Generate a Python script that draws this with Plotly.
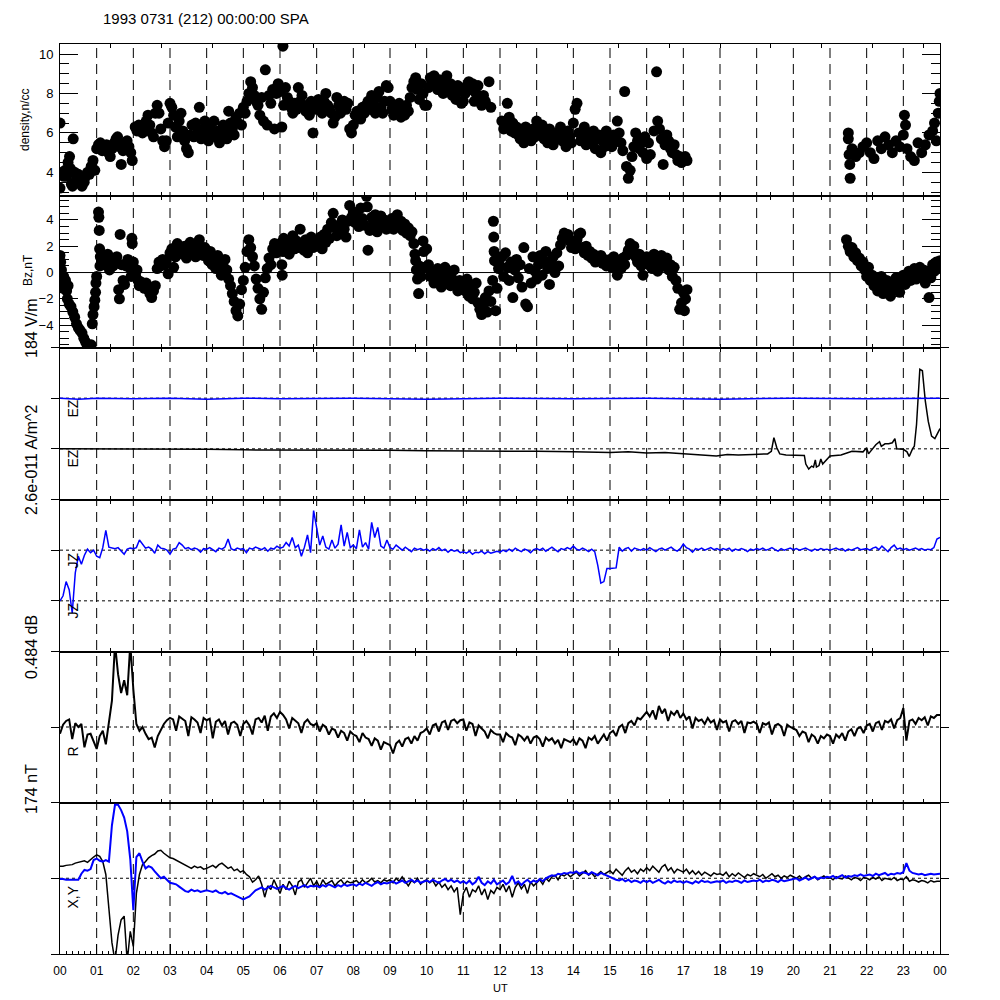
import plotly.graph_objects as go

# ---------------- data ----------------
title_text = "1993 0731 (212) 00:00:00 SPA"
hour_labels = ["00", "01", "02", "03", "04", "05", "06", "07", "08", "09", "10", "11", "12",
               "13", "14", "15", "16", "17", "18", "19", "20", "21", "22", "23", "00"]

density_pts = [
    (0.00, 6.5), (0.00, 3.2), (0.03, 3.9), (0.06, 4.0), (0.10, 3.8), (0.14, 4.1), (0.18, 3.8), (0.22, 4.5), (0.26, 4.8), (0.28, 4.2), (0.31, 3.4), (0.34, 3.3), (0.36, 5.7), (0.40, 4.0), (0.45, 3.7), (0.50, 3.9), (0.55, 3.5), (0.60, 3.3), (0.66, 3.5), (0.70, 3.8), (0.75, 4.0), (0.80, 3.9), (0.85, 4.3), (0.90, 4.6), (0.95, 4.1),
    (1.00, 5.2), (1.05, 5.4), (1.10, 5.5), (1.15, 5.1), (1.20, 5.3), (1.27, 5.4), (1.32, 5.0), (1.37, 4.8), (1.42, 5.2), (1.48, 5.5), (1.53, 5.7), (1.57, 5.8), (1.62, 5.3), (1.67, 4.4), (1.72, 5.1), (1.78, 5.5), (1.83, 5.6), (1.88, 5.3), (1.93, 5.0), (1.97, 4.6),
    (2.05, 6.3), (2.10, 6.1), (2.15, 6.4), (2.20, 6.2), (2.25, 6.0), (2.30, 6.3), (2.35, 6.6), (2.40, 6.9), (2.45, 6.4), (2.50, 6.0), (2.55, 5.8), (2.60, 7.0), (2.65, 7.4), (2.70, 7.0), (2.75, 6.2), (2.80, 5.6), (2.85, 5.3), (2.90, 5.6), (2.95, 6.5),
    (3.00, 7.5), (3.05, 7.3), (3.10, 6.9), (3.15, 6.3), (3.20, 5.8), (3.25, 6.6), (3.30, 7.0), (3.35, 6.1), (3.40, 5.6), (3.45, 5.2), (3.50, 5.0), (3.55, 5.9), (3.60, 6.4), (3.65, 5.8), (3.70, 6.5), (3.75, 6.0), (3.80, 7.3), (3.85, 5.7), (3.90, 6.2), (3.95, 6.6),
    (4.00, 6.0), (4.05, 5.6), (4.10, 6.3), (4.15, 5.9), (4.20, 6.6), (4.25, 5.8), (4.30, 6.1), (4.35, 5.5), (4.40, 5.9), (4.45, 6.4), (4.50, 6.0), (4.55, 5.7), (4.60, 7.1), (4.65, 6.5), (4.70, 6.2), (4.75, 5.9), (4.80, 6.8), (4.85, 6.5), (4.90, 7.0), (4.95, 6.4),
    (5.00, 7.3), (5.05, 7.0), (5.10, 7.6), (5.15, 8.0), (5.20, 8.6), (5.25, 8.3), (5.30, 7.9), (5.35, 7.6), (5.40, 7.4), (5.45, 6.9), (5.50, 7.8), (5.55, 6.6), (5.60, 9.2), (5.65, 6.4), (5.70, 7.9), (5.75, 7.5), (5.80, 8.2), (5.85, 6.2), (5.90, 8.0), (5.95, 8.5),
    (6.00, 8.1), (6.05, 6.3), (6.08, 10.4), (6.10, 7.4), (6.15, 8.3), (6.20, 7.8), (6.25, 7.6), (6.30, 7.3), (6.35, 7.0), (6.40, 7.5), (6.45, 7.2), (6.50, 8.3), (6.55, 7.6), (6.60, 7.9), (6.65, 7.4), (6.70, 7.1), (6.75, 7.3), (6.80, 6.9), (6.85, 7.6), (6.90, 6.0), (6.95, 7.2),
    (7.00, 7.5), (7.05, 7.7), (7.10, 7.3), (7.15, 7.0), (7.20, 7.6), (7.25, 8.0), (7.30, 7.4), (7.35, 7.2), (7.40, 7.0), (7.45, 6.5), (7.50, 6.8), (7.55, 7.8), (7.60, 7.4), (7.65, 7.0), (7.70, 7.3), (7.75, 7.6), (7.80, 7.2), (7.85, 7.5), (7.90, 6.2), (7.95, 6.0),
    (8.00, 6.4), (8.05, 6.9), (8.10, 7.1), (8.15, 6.9), (8.20, 6.7), (8.25, 7.3), (8.30, 7.0), (8.35, 7.4), (8.40, 7.6), (8.45, 7.2), (8.50, 7.9), (8.55, 7.5), (8.60, 7.0), (8.65, 7.8), (8.70, 8.1), (8.75, 7.3), (8.80, 7.0), (8.85, 7.6), (8.90, 8.4), (8.95, 8.3),
    (9.00, 7.6), (9.05, 7.2), (9.10, 6.9), (9.15, 7.3), (9.20, 7.0), (9.25, 7.5), (9.30, 6.8), (9.35, 7.2), (9.40, 6.9), (9.45, 7.4), (9.50, 7.1), (9.55, 7.8), (9.60, 8.3), (9.65, 8.6), (9.70, 8.8), (9.75, 8.2), (9.80, 7.7), (9.85, 8.5), (9.90, 8.0), (9.95, 7.4),
    (10.00, 7.4), (10.05, 8.3), (10.10, 8.8), (10.15, 8.5), (10.20, 8.9), (10.25, 8.6), (10.30, 8.2), (10.35, 8.7), (10.40, 8.4), (10.45, 8.0), (10.50, 8.6), (10.55, 8.9), (10.60, 8.3), (10.65, 8.5), (10.70, 7.9), (10.75, 8.2), (10.80, 7.7), (10.85, 8.4), (10.90, 8.1), (10.95, 7.5),
    (11.00, 7.6), (11.05, 8.0), (11.10, 8.4), (11.15, 8.6), (11.20, 8.2), (11.25, 8.5), (11.30, 7.6), (11.35, 8.0), (11.40, 8.4), (11.45, 7.8), (11.50, 7.4), (11.55, 7.9), (11.60, 7.6), (11.70, 8.6), (11.75, 7.3),
    (12.05, 6.6), (12.10, 6.2), (12.15, 6.4), (12.20, 7.5), (12.25, 6.8), (12.30, 6.1), (12.35, 6.5), (12.40, 6.0), (12.45, 6.3), (12.50, 5.9), (12.55, 5.7), (12.60, 6.1), (12.65, 5.5), (12.70, 6.3), (12.75, 5.8), (12.80, 6.0), (12.85, 5.6), (12.90, 6.2), (12.95, 5.8),
    (13.00, 6.6), (13.05, 6.2), (13.10, 5.9), (13.15, 6.4), (13.20, 5.7), (13.25, 6.0), (13.30, 5.5), (13.35, 6.2), (13.40, 5.8), (13.45, 5.4), (13.50, 6.0), (13.55, 5.7), (13.60, 5.9), (13.65, 6.3), (13.70, 5.6), (13.75, 5.9), (13.80, 5.3), (13.85, 6.1), (13.90, 5.8), (13.95, 5.5),
    (14.00, 6.5), (14.05, 7.2), (14.10, 7.5), (14.15, 6.0), (14.20, 5.6), (14.25, 5.9), (14.30, 6.3), (14.35, 5.4), (14.40, 5.8), (14.45, 6.0), (14.50, 5.5), (14.55, 6.1), (14.60, 5.2), (14.65, 5.7), (14.70, 5.9), (14.75, 5.0), (14.80, 5.6), (14.85, 5.3), (14.90, 6.1), (14.95, 5.4),
    (15.00, 5.8), (15.05, 5.3), (15.10, 5.9), (15.15, 5.6), (15.20, 6.6), (15.25, 6.0), (15.30, 5.5), (15.35, 5.1), (15.40, 8.1), (15.45, 4.3), (15.50, 3.7), (15.55, 4.1), (15.60, 4.8), (15.65, 5.3), (15.70, 6.0), (15.75, 5.6), (15.80, 5.2), (15.85, 5.5), (15.90, 5.0), (15.95, 5.8),
    (16.00, 4.7), (16.05, 5.5), (16.10, 4.9), (16.20, 6.1), (16.27, 9.1), (16.30, 6.6), (16.35, 6.2), (16.40, 5.7), (16.45, 4.4), (16.50, 5.4), (16.55, 5.9), (16.60, 5.6), (16.65, 5.2), (16.70, 5.0), (16.75, 5.4), (16.80, 4.9), (16.85, 4.6), (16.90, 4.8), (16.95, 4.5), (17.00, 4.7), (17.05, 4.8), (17.10, 4.6),
    (21.50, 6.0), (21.50, 5.7), (21.52, 4.9), (21.54, 4.4), (21.55, 3.7), (21.60, 5.2), (21.70, 4.8), (21.80, 5.0), (21.90, 5.3), (22.00, 5.5), (22.10, 5.0), (22.20, 4.7), (22.30, 5.6), (22.40, 5.2), (22.50, 5.8), (22.60, 5.4), (22.70, 5.0), (22.80, 5.6), (22.90, 5.3), (23.00, 5.9), (23.03, 6.9), (23.06, 6.4), (23.10, 5.2), (23.20, 4.8), (23.30, 4.6), (23.40, 5.5), (23.50, 5.0), (23.60, 5.4), (23.70, 5.9), (23.80, 6.1), (23.85, 6.5), (23.90, 5.6), (23.95, 7.0), (23.98, 7.6), (24.00, 8.0),
]

bz_pts = [
    (0.00, 1.3), (0.02, 0.8), (0.04, 0.2), (0.06, -0.5), (0.08, -1.2), (0.10, -0.3), (0.12, -1.0), (0.15, -0.6), (0.18, -1.4), (0.20, -2.0), (0.22, -1.0), (0.25, -2.4), (0.30, -2.6), (0.35, -3.0), (0.40, -3.4), (0.45, -3.9), (0.50, -4.2), (0.55, -4.4), (0.60, -4.6), (0.65, -5.0), (0.70, -5.3), (0.75, -5.6), (0.80, -5.7), (0.85, -5.5), (0.88, -3.9), (0.90, -3.2), (0.93, -2.6), (0.95, -2.1), (0.97, -1.5), (0.98, -0.8), (1.00, -0.3),
    (1.05, 4.6), (1.06, 4.2), (1.07, 3.2), (1.08, 1.8), (1.09, 0.5), (1.10, 1.2), (1.13, 0.8), (1.16, 1.0), (1.20, 0.6), (1.25, 0.9), (1.30, 1.4), (1.35, 0.2), (1.40, 1.1), (1.45, 0.5), (1.50, 0.8), (1.55, 1.2), (1.60, -1.3), (1.62, -2.0), (1.64, 2.9), (1.68, 0.6), (1.72, -0.6), (1.76, -0.9), (1.80, 0.5), (1.85, 1.0), (1.90, 0.4), (1.94, -0.3), (1.96, 2.6), (1.97, 2.2),
    (2.00, 0.8), (2.03, 0.3), (2.06, -0.2), (2.10, 0.2), (2.13, -0.6), (2.16, -1.0), (2.20, -0.7), (2.25, -0.9), (2.30, -1.2), (2.35, -0.8), (2.40, -1.3), (2.45, -1.6), (2.50, -1.9), (2.55, -1.4), (2.60, -1.0), (2.65, 0.3), (2.70, 0.8), (2.75, 0.5), (2.80, 1.0), (2.85, 0.6), (2.90, 0.9), (2.95, -0.1),
    (3.00, 1.5), (3.05, 1.8), (3.10, 0.4), (3.15, 1.2), (3.20, 2.2), (3.25, 1.6), (3.30, 1.9), (3.35, 1.4), (3.40, 2.0), (3.45, 1.1), (3.50, 1.7), (3.55, 2.3), (3.60, 1.5), (3.65, 1.8), (3.70, 1.2), (3.75, 2.0), (3.80, 2.5), (3.85, 1.6), (3.90, 1.3), (3.95, 1.9),
    (4.00, 1.4), (4.05, 0.9), (4.10, 1.6), (4.15, 0.6), (4.20, 1.1), (4.25, 0.3), (4.30, 1.3), (4.35, 0.8), (4.40, -0.2), (4.45, 0.5), (4.50, 1.0), (4.55, 0.2), (4.60, -0.5), (4.65, -1.0), (4.70, -1.6), (4.75, -2.2), (4.80, -2.9), (4.85, -3.3), (4.90, -2.4), (4.95, -1.3),
    (5.00, -0.6), (5.05, 0.4), (5.10, 1.6), (5.15, 2.5), (5.20, 1.9), (5.25, 1.2), (5.30, 0.5), (5.35, -0.5), (5.40, -1.2), (5.45, -2.0), (5.50, -2.8), (5.55, -1.5), (5.60, -0.4), (5.65, 0.3), (5.70, 1.1), (5.75, 0.6), (5.80, 1.8), (5.85, 2.2), (5.90, 1.5), (5.95, 2.0),
    (6.00, 2.2), (6.05, 0.6), (6.06, -0.2), (6.08, 1.6), (6.10, 2.6), (6.15, 1.9), (6.20, 2.3), (6.25, 1.4), (6.30, 2.0), (6.35, 2.8), (6.40, 1.8), (6.45, 2.4), (6.50, 1.9), (6.55, 3.3), (6.60, 2.1), (6.65, 1.7), (6.70, 2.5), (6.75, 1.5), (6.80, 2.2), (6.85, 2.7), (6.90, 1.9), (6.95, 2.3),
    (7.00, 2.4), (7.05, 2.0), (7.10, 2.7), (7.15, 1.8), (7.20, 2.9), (7.25, 2.3), (7.30, 3.3), (7.35, 2.6), (7.40, 3.8), (7.45, 4.5), (7.50, 3.4), (7.55, 2.8), (7.60, 3.6), (7.65, 3.0), (7.70, 4.0), (7.75, 3.3), (7.80, 2.7), (7.85, 3.9), (7.90, 5.1), (7.95, 4.2),
    (8.00, 4.6), (8.05, 3.8), (8.10, 4.3), (8.15, 3.5), (8.20, 4.9), (8.25, 4.1), (8.30, 3.6), (8.36, 5.8), (8.38, 5.0), (8.40, 1.7), (8.45, 3.2), (8.50, 4.2), (8.55, 3.7), (8.60, 4.4), (8.65, 3.1), (8.70, 3.8), (8.75, 4.3), (8.80, 3.5), (8.85, 4.0), (8.90, 3.3), (8.95, 3.9),
    (9.00, 3.6), (9.05, 4.1), (9.10, 3.3), (9.15, 3.8), (9.20, 4.4), (9.25, 3.5), (9.30, 3.9), (9.35, 3.2), (9.40, 3.7), (9.45, 3.0), (9.50, 3.4), (9.55, 2.8), (9.60, 3.1), (9.65, 2.2), (9.68, 1.4), (9.70, 0.9), (9.72, 0.2), (9.75, -0.5), (9.78, -1.6), (9.80, 0.5), (9.85, -0.3), (9.90, 2.4), (9.92, 1.6), (9.95, 0.4),
    (10.00, 1.8), (10.05, 0.6), (10.10, -0.3), (10.15, 0.1), (10.20, -0.8), (10.25, -0.4), (10.30, 0.3), (10.35, -0.6), (10.40, -1.1), (10.45, -0.2), (10.50, 0.4), (10.55, -0.7), (10.60, -0.1), (10.65, -1.0), (10.70, -0.5), (10.75, 0.2), (10.80, -0.8), (10.85, -1.4), (10.90, -0.6), (10.95, -1.1),
    (11.00, -0.9), (11.05, -1.4), (11.10, -0.5), (11.15, -1.8), (11.20, -1.1), (11.25, -2.0), (11.30, -1.5), (11.35, -0.8), (11.40, -2.3), (11.45, -2.8), (11.50, -3.2), (11.55, -2.5), (11.60, -1.9), (11.65, -3.0), (11.70, -1.4), (11.75, -2.2), (11.80, -0.6), (11.82, 3.9), (11.83, 2.7), (11.84, 1.6), (11.85, 0.9), (11.88, -2.9), (11.92, -1.2), (11.96, 0.3),
    (12.00, 0.5), (12.05, 1.2), (12.10, -0.3), (12.15, 1.5), (12.20, 0.4), (12.25, -0.6), (12.30, 0.8), (12.35, -1.9), (12.40, 0.2), (12.45, 1.0), (12.50, -0.4), (12.55, 0.6), (12.60, -1.1), (12.65, 1.9), (12.70, -2.4), (12.75, -2.6), (12.80, 0.3), (12.85, -0.8), (12.90, 1.2), (12.95, 0.1),
    (13.00, -0.5), (13.05, 0.6), (13.10, 1.3), (13.15, -0.2), (13.20, 0.9), (13.25, 1.6), (13.30, 0.3), (13.35, -0.9), (13.40, 0.7), (13.45, 1.2), (13.50, 0.0), (13.55, 1.5), (13.60, 0.5), (13.65, 2.1), (13.70, 2.6), (13.75, 3.0), (13.80, 2.7), (13.85, 2.9), (13.90, 2.4), (13.95, 1.9),
    (14.00, 2.2), (14.05, 1.8), (14.10, 2.5), (14.15, 2.9), (14.20, 3.0), (14.25, 1.9), (14.30, 1.5), (14.35, 2.0), (14.40, 1.3), (14.45, 1.6), (14.50, 1.1), (14.55, 1.4), (14.60, 0.8), (14.65, 1.2), (14.70, 0.9), (14.75, 1.3), (14.80, 0.7), (14.85, 1.0), (14.90, 0.5), (14.95, 0.9),
    (15.00, 1.0), (15.05, 0.4), (15.10, 1.2), (15.15, 0.7), (15.20, -0.2), (15.25, 0.9), (15.30, 0.3), (15.35, 1.1), (15.40, 0.6), (15.45, 1.3), (15.50, 1.7), (15.55, 2.2), (15.60, 1.5), (15.65, 2.0), (15.70, 1.2), (15.75, 0.8), (15.80, 1.4), (15.85, 0.5), (15.90, -0.2), (15.95, 0.8),
    (16.00, 1.2), (16.05, 0.6), (16.10, 1.0), (16.15, 0.3), (16.20, 1.4), (16.25, 0.8), (16.30, 0.1), (16.35, 0.9), (16.40, 1.3), (16.45, 0.5), (16.50, 0.7), (16.55, 1.1), (16.60, 0.2), (16.65, 0.6), (16.70, -0.3), (16.75, 0.4), (16.80, -0.6), (16.85, -1.2), (16.90, -2.8), (16.95, -2.3), (17.00, -1.5), (17.03, -2.9), (17.06, -2.0), (17.10, -1.3),
    (21.45, 2.5), (21.50, 2.0), (21.55, 1.6), (21.60, 1.9), (21.65, 1.2), (21.70, 1.5), (21.75, 0.9), (21.80, 1.1), (21.85, 0.5), (21.90, 0.8), (21.95, 0.2), (22.00, -0.3), (22.05, 0.4), (22.10, -0.6), (22.15, -0.2), (22.20, -1.0), (22.25, -0.5), (22.30, -1.4), (22.35, -0.9), (22.40, -0.3), (22.45, -1.6), (22.50, -1.1), (22.55, -0.6), (22.60, -1.3), (22.65, -1.8), (22.70, -0.8), (22.75, -1.2), (22.80, -0.4), (22.85, -1.0), (22.90, -1.5), (22.95, -0.7), (23.00, -0.2), (23.05, -0.9), (23.10, -0.4), (23.15, 0.1), (23.20, -0.6), (23.25, -0.2), (23.30, 0.3), (23.35, -0.5), (23.40, 0.0), (23.45, 0.4), (23.50, -0.3), (23.55, 0.2), (23.60, -0.8), (23.65, 0.1), (23.70, -1.9), (23.75, -0.4), (23.80, 0.6), (23.85, 0.1), (23.90, 0.8), (23.95, 0.3), (24.00, 0.9),
]

# EZ traces: deviation from their reference level (level spacing = 1 unit)
ez_blue_pts = [(0, 0.0), (0.5, -0.02), (1, 0.0), (2, -0.01), (3, 0.0), (4, -0.02), (5, 0.0), (6, -0.01), (8, 0.0),
               (10, -0.02), (12, 0.0), (14, -0.01), (16, 0.0), (18, -0.02), (20, 0.0), (22, -0.01), (24, 0.0)]
ez_black_pts = [
    (0, 0.0), (1, 0.0), (2, -0.01), (3, 0.0), (4, -0.01), (5, -0.02), (6, -0.02), (7, -0.03), (8, -0.02), (9, -0.03), (10, -0.04), (11, -0.04), (12, -0.05), (13, -0.05), (14, -0.06), (15, -0.07), (15.5, -0.06), (16, -0.08), (16.5, -0.07), (17, -0.09),
    (17.45, -0.11), (17.9, -0.14), (18.2, -0.11), (18.5, -0.12), (18.9, -0.11), (19.3, -0.1), (19.4, -0.05), (19.47, 0.22), (19.55, 0.02), (19.63, -0.1), (19.8, -0.12), (20.0, -0.12), (20.3, -0.13), (20.34, -0.3), (20.42, -0.4), (20.5, -0.34), (20.55, -0.36), (20.6, -0.22), (20.63, -0.36), (20.7, -0.33), (20.75, -0.2), (20.8, -0.3), (20.9, -0.22), (21.0, -0.14), (21.3, -0.12), (21.6, -0.05), (21.9, -0.06), (22.0, 0.02), (22.05, -0.1), (22.15, 0.0), (22.25, 0.08), (22.35, 0.14), (22.4, 0.05), (22.5, 0.1), (22.6, 0.1), (22.7, 0.12), (22.77, 0.2), (22.82, 0.0), (23.0, -0.01), (23.1, -0.06), (23.16, -0.15), (23.25, 0.0), (23.3, 0.05), (23.36, 0.48), (23.42, 1.2), (23.45, 1.57), (23.52, 1.54), (23.56, 1.2), (23.6, 0.94), (23.68, 0.54), (23.77, 0.25), (23.86, 0.2), (23.93, 0.3), (24.0, 0.4),
]

# 5-minute samples, one row per hour (deviation from the reference level)
jz_rows = [
    [-1.0, -0.9, -0.62, -0.78, -1.24, -0.45, -0.12, -0.28, -0.10, 0.02, -0.05, 0.00],
    [-0.12, -0.15, 0.05, 0.39, 0.06, 0.04, 0.03, 0.05, -0.02, -0.08, 0.02, 0.04],
    [0.03, 0.05, 0.20, 0.12, 0.04, 0.06, 0.02, -0.06, 0.10, 0.04, 0.03, 0.00],
    [-0.08, 0.02, 0.04, 0.15, 0.10, 0.03, 0.05, 0.01, 0.04, 0.02, -0.04, 0.03],
    [0.02, 0.05, 0.01, -0.03, 0.04, 0.02, 0.06, 0.22, 0.03, 0.00, 0.04, 0.02],
    [0.03, -0.05, 0.04, 0.02, 0.06, 0.03, 0.01, 0.05, -0.02, 0.04, 0.02, 0.08],
    [0.04, 0.06, 0.15, 0.08, 0.25, 0.05, 0.10, -0.12, 0.06, 0.30, -0.05, 0.78],
    [0.40, 0.10, 0.28, 0.06, 0.02, 0.20, 0.04, 0.12, 0.50, 0.08, 0.35, 0.05],
    [0.10, 0.03, 0.40, 0.06, 0.15, 0.02, 0.55, 0.25, 0.45, 0.08, 0.04, 0.20],
    [0.05, 0.02, 0.10, 0.04, 0.00, 0.06, 0.02, -0.03, 0.04, 0.01, 0.03, 0.00],
    [0.02, -0.02, 0.03, 0.00, 0.05, -0.01, 0.02, -0.04, 0.01, -0.02, 0.00, -0.05],
    [-0.03, -0.06, -0.02, -0.08, -0.04, -0.05, -0.02, -0.07, -0.03, -0.06, -0.04, -0.02],
    [-0.04, 0.00, -0.03, 0.02, -0.02, 0.04, 0.00, -0.03, 0.02, 0.00, -0.05, 0.01],
    [0.03, 0.00, 0.04, -0.02, 0.02, 0.06, 0.01, -0.03, 0.03, 0.01, 0.05, 0.02],
    [0.08, 0.02, 0.00, 0.04, 0.01, -0.03, 0.02, -0.03, -0.30, -0.65, -0.62, -0.36],
    [-0.36, -0.36, -0.35, 0.06, -0.02, 0.03, 0.05, -0.02, 0.04, 0.02, 0.00, 0.03],
    [0.00, 0.05, 0.01, -0.03, 0.02, 0.04, 0.00, 0.03, 0.06, 0.01, -0.02, 0.03],
    [0.12, 0.05, 0.02, -0.04, 0.03, 0.01, 0.04, 0.00, 0.02, 0.05, 0.01, 0.03],
    [0.00, 0.03, 0.01, 0.04, -0.02, 0.02, 0.00, 0.03, 0.01, -0.03, 0.02, 0.00],
    [0.03, 0.01, 0.04, 0.00, 0.02, 0.05, 0.01, -0.02, 0.03, 0.00, 0.02, 0.04],
    [0.01, 0.03, 0.00, 0.02, 0.04, 0.01, -0.02, 0.02, 0.00, 0.03, 0.01, 0.02],
    [0.00, 0.02, 0.04, 0.01, 0.03, -0.02, 0.02, 0.00, 0.03, 0.05, 0.01, 0.02],
    [0.03, 0.00, 0.04, 0.06, 0.01, 0.08, 0.02, -0.03, 0.05, 0.10, 0.02, 0.04],
    [0.01, 0.03, 0.00, 0.02, 0.04, 0.01, 0.03, 0.00, 0.02, 0.01, 0.05, 0.22],
    [0.25],
]

r_rows = [
    [-0.09, 0.03, 0.08, 0.10, -0.16, 0.05, 0.00, 0.04, -0.27, -0.10, -0.09, -0.18],
    [-0.29, -0.12, -0.05, -0.23, 0.04, 0.35, 1.10, 0.70, 0.45, 0.62, 0.42, 1.10],
    [0.50, 0.04, -0.05, 0.00, -0.09, -0.16, -0.14, -0.27, -0.12, -0.03, 0.04, 0.09],
    [0.12, 0.10, -0.05, 0.14, 0.11, 0.08, -0.12, 0.13, 0.10, 0.06, -0.08, 0.12],
    [0.09, 0.11, -0.15, 0.07, 0.10, 0.02, 0.08, -0.10, 0.05, 0.07, 0.03, -0.12],
    [0.04, 0.08, 0.02, -0.10, 0.10, 0.12, 0.06, 0.15, -0.05, 0.14, 0.18, 0.12],
    [0.20, 0.16, 0.10, -0.02, 0.12, 0.08, 0.05, -0.08, 0.06, 0.10, 0.04, 0.02],
    [0.05, -0.06, 0.03, 0.00, -0.10, -0.02, -0.04, -0.14, -0.05, -0.08, -0.18, -0.06],
    [-0.10, -0.12, -0.20, -0.08, -0.14, -0.16, -0.25, -0.15, -0.18, -0.30, -0.20, -0.22],
    [-0.24, -0.35, -0.22, -0.18, -0.26, -0.16, -0.14, -0.22, -0.12, -0.18, -0.08, -0.06],
    [-0.02, -0.10, 0.02, 0.04, -0.06, 0.06, 0.08, -0.04, 0.08, 0.10, 0.05, 0.09],
    [0.10, -0.05, 0.06, 0.04, -0.12, 0.02, -0.02, -0.06, -0.15, -0.04, -0.08, -0.10],
    [-0.10, -0.20, -0.08, -0.12, -0.14, -0.24, -0.10, -0.13, -0.18, -0.12, -0.22, -0.14],
    [-0.12, -0.16, -0.26, -0.14, -0.18, -0.15, -0.22, -0.17, -0.28, -0.16, -0.18, -0.20],
    [-0.16, -0.24, -0.15, -0.18, -0.28, -0.14, -0.17, -0.12, -0.22, -0.16, -0.10, -0.18],
    [-0.08, -0.05, -0.12, 0.00, 0.03, -0.08, 0.05, 0.08, 0.02, 0.12, 0.10, 0.15],
    [0.20, 0.14, 0.22, 0.10, 0.28, 0.18, 0.24, 0.08, 0.20, 0.16, 0.22, 0.12],
    [0.18, 0.10, 0.14, -0.02, 0.12, 0.08, 0.10, 0.04, 0.12, 0.06, 0.09, -0.04],
    [0.10, 0.06, 0.08, -0.06, 0.07, 0.09, 0.04, 0.08, -0.08, 0.06, 0.05, 0.07],
    [0.04, -0.08, 0.05, 0.03, 0.06, -0.10, 0.02, 0.04, 0.01, -0.12, 0.03, 0.00],
    [-0.02, -0.04, -0.12, -0.06, -0.08, -0.20, -0.10, -0.13, -0.22, -0.12, -0.15, -0.10],
    [-0.12, -0.22, -0.10, -0.14, -0.08, -0.18, -0.06, -0.03, -0.12, -0.02, 0.00, -0.08],
    [0.02, 0.04, -0.06, 0.05, 0.07, -0.04, 0.08, 0.06, 0.10, -0.02, 0.09, 0.12],
    [0.25, -0.18, 0.08, 0.10, 0.04, 0.12, 0.09, 0.13, 0.02, 0.14, 0.12, 0.16],
    [0.16],
]

bx_rows = [
    [0.16, 0.16, 0.17, 0.17, 0.18, 0.20, 0.21, 0.22, 0.23, 0.21, 0.25, 0.28],
    [0.31, 0.29, 0.22, 0.05, -0.40, -0.85, -1.10, -0.75, -0.55, -0.50, -1.10, -0.70],
    [-0.90, -0.20, 0.05, 0.18, 0.22, 0.27, 0.30, 0.32, 0.36, 0.37, 0.33, 0.30],
    [0.27, 0.26, 0.24, 0.22, 0.20, 0.17, 0.15, 0.13, 0.16, 0.14, 0.15, 0.12],
    [0.13, 0.15, 0.17, 0.14, 0.18, 0.20, 0.16, 0.13, 0.15, 0.10, 0.12, 0.08],
    [0.10, 0.05, 0.02, -0.05, -0.02, 0.03, -0.08, -0.25, -0.10, -0.15, -0.02, -0.12],
    [-0.20, -0.08, -0.15, -0.04, -0.10, -0.22, -0.05, -0.02, -0.12, -0.06, 0.00, -0.10],
    [-0.04, -0.12, -0.02, -0.08, -0.06, -0.03, -0.10, -0.05, -0.02, -0.08, -0.04, -0.06],
    [-0.05, -0.03, -0.07, -0.02, -0.06, -0.04, 0.00, -0.05, -0.03, -0.06, -0.02, -0.04],
    [-0.02, -0.06, 0.00, -0.04, 0.02, -0.05, -0.10, -0.03, -0.06, 0.00, -0.08, -0.04],
    [-0.02, -0.06, -0.03, -0.10, -0.05, -0.12, -0.08, -0.15, -0.10, -0.18, -0.12, -0.48],
    [-0.20, -0.12, -0.25, -0.15, -0.18, -0.10, -0.22, -0.14, -0.28, -0.16, -0.20, -0.12],
    [-0.15, -0.08, -0.18, -0.10, -0.25, -0.12, -0.06, -0.14, -0.08, -0.20, -0.05, -0.10],
    [-0.06, -0.02, -0.08, 0.00, -0.04, 0.02, 0.04, -0.02, 0.05, 0.03, 0.06, 0.02],
    [0.05, 0.08, 0.03, 0.06, 0.10, 0.04, 0.07, 0.02, 0.06, 0.09, 0.05, 0.08],
    [0.10, 0.06, 0.12, 0.08, 0.04, 0.10, 0.14, 0.08, 0.11, 0.06, 0.12, 0.09],
    [0.14, 0.10, 0.16, 0.12, 0.08, 0.15, 0.18, 0.10, 0.14, 0.07, 0.12, 0.10],
    [0.08, 0.12, 0.06, 0.10, 0.05, 0.09, 0.04, 0.08, 0.06, 0.03, 0.07, 0.05],
    [0.06, 0.04, 0.08, 0.02, 0.06, 0.03, 0.07, 0.04, 0.01, 0.05, 0.03, 0.06],
    [0.04, 0.02, 0.05, 0.00, 0.03, 0.06, 0.02, 0.04, 0.00, 0.03, 0.01, 0.04],
    [0.02, 0.00, 0.03, -0.01, 0.02, 0.04, 0.00, 0.02, -0.02, 0.01, 0.03, 0.00],
    [0.01, -0.02, 0.02, 0.00, -0.01, 0.03, 0.00, -0.02, 0.01, 0.00, -0.03, 0.01],
    [0.00, -0.02, 0.01, -0.01, 0.02, -0.03, 0.00, -0.01, -0.02, 0.01, -0.03, -0.01],
    [-0.02, 0.02, -0.04, -0.02, -0.03, -0.05, -0.03, -0.04, -0.06, -0.03, -0.05, -0.04],
    [-0.04],
]

by_rows = [
    [-0.01, -0.01, -0.02, -0.02, -0.03, -0.02, -0.02, 0.06, 0.11, 0.10, 0.12, 0.24],
    [0.26, 0.23, 0.22, 0.24, 0.22, 0.70, 0.97, 0.97, 0.90, 0.80, 0.62, 0.25],
    [-0.42, 0.28, 0.33, 0.22, 0.13, 0.16, 0.14, 0.09, 0.04, 0.00, 0.02, -0.02],
    [-0.06, -0.07, -0.08, -0.11, -0.14, -0.17, -0.18, -0.15, -0.17, -0.16, -0.18, -0.17],
    [-0.16, -0.17, -0.18, -0.16, -0.19, -0.20, -0.18, -0.21, -0.20, -0.22, -0.24, -0.25],
    [-0.28, -0.26, -0.24, -0.20, -0.16, -0.14, -0.12, -0.15, -0.13, -0.10, -0.12, -0.14],
    [-0.12, -0.10, -0.13, -0.15, -0.12, -0.10, -0.13, -0.11, -0.09, -0.12, -0.10, -0.11],
    [-0.10, -0.12, -0.09, -0.11, -0.08, -0.10, -0.12, -0.09, -0.11, -0.08, -0.10, -0.09],
    [-0.08, -0.10, -0.07, -0.09, -0.06, -0.08, -0.10, -0.07, -0.05, -0.08, -0.06, -0.07],
    [-0.06, -0.04, -0.07, -0.05, -0.03, -0.06, -0.04, -0.02, -0.05, -0.03, -0.06, -0.04],
    [-0.03, -0.05, -0.02, -0.04, -0.06, -0.03, -0.01, -0.04, -0.02, -0.05, -0.03, -0.06],
    [-0.04, -0.07, -0.03, -0.08, -0.05, 0.02, -0.06, -0.09, -0.04, -0.07, -0.02, -0.08],
    [-0.06, -0.03, -0.08, -0.05, 0.03, -0.07, -0.04, -0.09, -0.05, -0.02, -0.06, -0.03],
    [-0.05, -0.01, -0.04, 0.00, 0.02, 0.04, 0.03, 0.06, 0.05, 0.07, 0.06, 0.08],
    [0.07, 0.09, 0.06, 0.08, 0.07, 0.05, 0.08, 0.06, 0.04, 0.07, 0.05, 0.03],
    [0.02, 0.00, -0.02, -0.03, -0.01, -0.04, -0.02, -0.05, -0.03, -0.04, -0.06, -0.03],
    [-0.05, -0.03, -0.06, -0.04, -0.02, -0.05, -0.07, -0.04, -0.06, -0.03, -0.05, -0.04],
    [-0.06, -0.04, -0.05, -0.07, -0.04, -0.06, -0.03, -0.05, -0.04, -0.06, -0.05, -0.04],
    [-0.05, -0.03, -0.06, -0.04, -0.05, -0.03, -0.04, -0.06, -0.03, -0.05, -0.04, -0.03],
    [-0.04, -0.02, -0.05, -0.03, -0.04, -0.02, -0.03, -0.05, -0.02, -0.04, -0.03, -0.02],
    [-0.02, 0.00, -0.03, -0.01, 0.01, -0.02, 0.00, 0.02, -0.01, 0.01, 0.00, 0.02],
    [0.01, 0.03, 0.00, 0.02, 0.04, 0.01, 0.03, 0.02, 0.04, 0.03, 0.05, 0.03],
    [0.04, 0.05, 0.03, 0.06, 0.04, 0.05, 0.07, 0.04, 0.06, 0.05, 0.07, 0.06],
    [0.08, 0.20, 0.10, 0.07, 0.06, 0.05, 0.06, 0.04, 0.05, 0.06, 0.05, 0.06],
    [0.06],
]


def rows_to_series(rows):
    t, v = [], []
    for h, row in enumerate(rows):
        n = len(row)
        for k, val in enumerate(row):
            t.append(h + k / 12.0 if n == 12 else h + k / max(n, 1))
            v.append(val)
    return t, v


def unzip(pts):
    return [p[0] for p in pts], [p[1] for p in pts]


dens_t, dens_v = unzip(density_pts)
bz_t, bz_v = unzip(bz_pts)
ezb_t, ezb_v = unzip(ez_blue_pts)
ezk_t, ezk_v = unzip(ez_black_pts)
jz_t, jz_v = rows_to_series(jz_rows)
r_t, r_v = rows_to_series(r_rows)
bx_t, bx_v = rows_to_series(bx_rows)
by_t, by_v = rows_to_series(by_rows)

# ---------------- layout geometry ----------------
# the page body adds an 8px offset, so margins are reduced by 8 at left/top
W, H = 1000, 1000
ML, MR, MT, MB = 52, 68, 36, 54
PW, PH = W - ML - MR, H - MT - MB
# panel edges in screen pixels
panel_px = [(44, 196), (196, 347.5), (347.5, 499.5), (499.5, 651.5), (651.5, 802.5), (802.5, 954)]


def py(y):
    return (954 - y) / PH


def px(x):
    return (x - 60) / PW


BLUE = "#0000ff"
FONT = "Liberation Sans, Arial, Helvetica, sans-serif"

fig = go.Figure()
mk = dict(size=11, color="black", line=dict(width=0))
fig.add_trace(go.Scatter(x=dens_t, y=dens_v, mode="markers", marker=mk, xaxis="x", yaxis="y"))
fig.add_trace(go.Scatter(x=bz_t, y=bz_v, mode="markers", marker=mk, xaxis="x2", yaxis="y2"))
fig.add_trace(go.Scatter(x=ezk_t, y=[1 + v for v in ezk_v], mode="lines",
                         line=dict(color="black", width=1.5), xaxis="x3", yaxis="y3"))
fig.add_trace(go.Scatter(x=ezb_t, y=[2 + v for v in ezb_v], mode="lines",
                         line=dict(color=BLUE, width=1.5), xaxis="x3", yaxis="y3"))
fig.add_trace(go.Scatter(x=jz_t, y=[2 + v for v in jz_v], mode="lines",
                         line=dict(color=BLUE, width=1.5), xaxis="x4", yaxis="y4"))
fig.add_trace(go.Scatter(x=r_t, y=r_v, mode="lines",
                         line=dict(color="black", width=2), xaxis="x5", yaxis="y5"))
fig.add_trace(go.Scatter(x=bx_t, y=bx_v, mode="lines",
                         line=dict(color="black", width=1.5), xaxis="x6", yaxis="y6"))
fig.add_trace(go.Scatter(x=by_t, y=by_v, mode="lines",
                         line=dict(color=BLUE, width=2), xaxis="x6", yaxis="y6"))

small_xticks = [k * 18.0 / 13.0 for k in range(1, 18)]
y_ranges = [[2.8, 10.51], [-5.70, 5.82], [0, 3], [0, 3], [-1, 1], [-1, 1]]

layout = dict(width=W, height=H, margin=dict(l=ML, r=MR, t=MT, b=MB),
              paper_bgcolor="white", plot_bgcolor="white", showlegend=False,
              font=dict(family=FONT, color="black"))

for i in range(6):
    sx = "" if i == 0 else str(i + 1)
    top, bot = panel_px[i]
    xa = dict(domain=[0, 1], anchor="y" + sx, range=[0, 24], showgrid=False, zeroline=False,
              showline=True, linecolor="black", linewidth=1, fixedrange=True)
    if i < 5:
        xa.update(tickmode="array", tickvals=small_xticks, ticks="inside", ticklen=4,
                  tickcolor="black", mirror="allticks", showticklabels=False)
    else:
        xa.update(tickmode="array", tickvals=list(range(25)), ticktext=hour_labels,
                  ticks="inside", ticklen=10, tickcolor="black", mirror=True,
                  showticklabels=True, tickfont=dict(size=12, family=FONT, color="black"),
                  ticklabelstandoff=6,
                  minor=dict(tickmode="linear", tick0=0, dtick=1 / 6, ticks="inside",
                             ticklen=3, tickcolor="black"))
    ya = dict(domain=[py(bot), py(top)], anchor="x" + sx, range=y_ranges[i], showgrid=False,
              zeroline=False, showline=True, linecolor="black", linewidth=1, fixedrange=True)
    if i in (0, 1):
        ya.update(tickmode="array", tickvals=[4, 6, 8, 10] if i == 0 else [-4, -2, 0, 2, 4],
                  ticks="inside", ticklen=18,
                  tickcolor="black", mirror="allticks", tickfont=dict(size=13, family=FONT),
                  ticklabelstandoff=3,
                  minor=dict(tickmode="linear", tick0=0, dtick=0.5, ticks="inside",
                             ticklen=9, tickcolor="black"))
    elif i in (2, 3):
        ya.update(tickmode="array", tickvals=[0, 1, 2, 3], ticks="outside", ticklen=8,
                  tickcolor="black", mirror="allticks", showticklabels=False)
    else:
        ya.update(tickmode="array", tickvals=[-1, 0, 1], ticks="outside", ticklen=8,
                  tickcolor="black", mirror="allticks", showticklabels=False)
    layout["xaxis" + sx] = xa
    layout["yaxis" + sx] = ya

shapes = []
for h in range(1, 24):
    shapes.append(dict(type="line", xref="x", yref="paper", x0=h, x1=h, y0=0, y1=1,
                       line=dict(color="black", width=1, dash="10px,6px"), layer="below"))
shapes.append(dict(type="line", xref="paper", yref="y2", x0=0, x1=1, y0=0, y1=0,
                   line=dict(color="black", width=1), layer="below"))
for ax, lv in [("y3", 1), ("y3", 2), ("y4", 1), ("y4", 2), ("y5", 0), ("y6", 0)]:
    shapes.append(dict(type="line", xref="paper", yref=ax, x0=0, x1=1, y0=lv, y1=lv,
                       line=dict(color="black", width=1, dash="dot"), layer="below"))
layout["shapes"] = shapes


def ann(text, x, y, size, angle=0, xanchor="center"):
    return dict(text=text, x=px(x), y=py(y), xref="paper", yref="paper", showarrow=False,
                textangle=angle, xanchor=xanchor, yanchor="middle",
                font=dict(size=size, family=FONT, color="black"))


annotations = [
    ann(title_text, 101, 18, 15, xanchor="left"),
    ann("density,n/cc", 25, 120, 12, -90),
    ann("Bz,nT", 28, 270, 12, -90),
    ann("184 V/m", 31, 328, 16, -90),
    ann("2.6e-011 A/m^2", 31, 460, 16, -90),
    ann("0.484 dB", 31, 647, 16, -90),
    ann("174 nT", 31, 789, 16, -90),
    ann("EZ", 72.5, 409, 14, -90),
    ann("EZ", 72.5, 459, 14, -90),
    ann("JZ", 72.5, 561, 14, -90),
    ann("JZ", 72.5, 611, 14, -90),
    ann("R", 72.5, 752, 14, -90),
    ann("X,Y", 72.5, 897, 14, -90),
    ann("UT", 500, 988, 11),
]
layout["annotations"] = annotations

fig.update_layout(**layout)
fig.write_html("out.html")
